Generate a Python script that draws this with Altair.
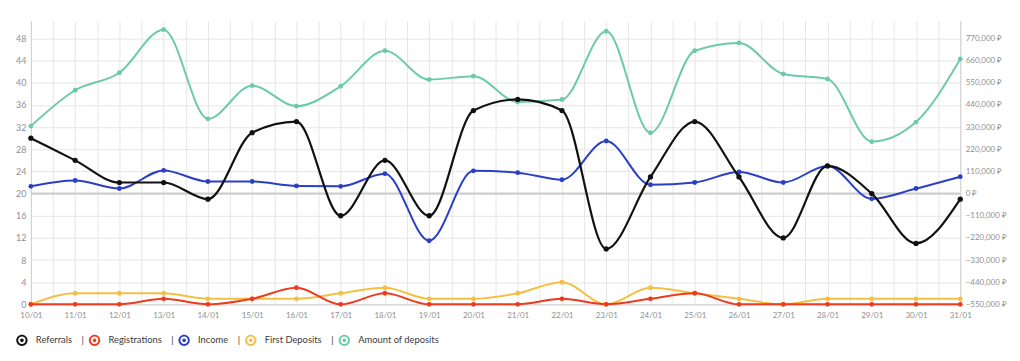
import altair as alt
import pandas as pd

dates = ['10/01', '11/01', '12/01', '13/01', '14/01', '15/01', '16/01', '17/01',
         '18/01', '19/01', '20/01', '21/01', '22/01', '23/01', '24/01', '25/01',
         '26/01', '27/01', '28/01', '29/01', '30/01', '31/01']
referrals = [30, 26, 22, 22, 19, 31, 33, 16, 26, 16, 35, 37, 35, 10, 23, 33, 23, 12, 25, 20, 11, 19]
registrations = [0, 0, 0, 1, 0, 1, 3, 0, 2, 0, 0, 0, 1, 0, 1, 2, 0, 0, 0, 0, 0, 0]
first_deposits = [0, 2, 2, 2, 1, 1, 1, 2, 3, 1, 1, 2, 4, 0, 3, 2, 1, 0, 1, 1, 1, 1]
income = [36000, 65000, 25000, 115000, 60000, 60000, 38000, 36000, 99000, -234000, 113000,
          104000, 69000, 261000, 44000, 55000, 107000, 55000, 137000, -26000, 25000, 84000]
amount_of_deposits = [335000, 513000, 600000, 814000, 371000, 536000, 434000, 533000, 709000,
                      566000, 583000, 455000, 467000, 806000, 302000, 709000, 748000, 594000,
                      569000, 258000, 355000, 668000]

series_names = ['Referrals', 'Registrations', 'Income', 'First Deposits', 'Amount of deposits']
series_colors = ['#111111', '#ee3a1e', '#2b3ec6', '#f4bf45', '#6dcaa9']

left_ticks = list(range(0, 49, 4))
right_ticks = list(range(-550000, 770001, 110000))
LEFT_MAX = 51.2
RIGHT_MIN = -550000
RIGHT_MAX = RIGHT_MIN + LEFT_MAX * 27500

n = len(dates)
idx = list(range(n))
x_values = [i / 2 for i in range(0, 2 * (n - 1) + 1)]
labels_js = "[" + ",".join("'" + d + "'" for d in dates) + "]"
x_label_expr = "datum.value % 1 == 0 ? " + labels_js + "[datum.value] : ''"

FONT = 'Lato'
NB = '\u00a0'

color_scale = alt.Scale(domain=series_names, range=series_colors)
left_scale = alt.Scale(domain=[0, LEFT_MAX], nice=False, zero=False)
right_scale = alt.Scale(domain=[RIGHT_MIN, RIGHT_MAX], nice=False, zero=False)

x_enc = alt.X('i:Q', scale=alt.Scale(domain=[0, n - 1], nice=False, zero=False),
              axis=alt.Axis(values=x_values, labelExpr=x_label_expr, title=None, grid=True,
                            ticks=False, labelPadding=7, labelFontSize=8, labelColor='#8f8f8f',
                            labelFont=FONT, domainColor='#d0d0d0', gridColor='#e6e6e6',
                            labelAngle=0, labelOverlap=False, labelFlush=False))

# ring (outer clockwise, hole counter-clockwise) plus a centre dot
legend_ring = ("M-1,0A1,1 0 1,1 1,0A1,1 0 1,1 -1,0Z "
               "M-0.66,0A0.66,0.66 0 1,0 0.66,0A0.66,0.66 0 1,0 -0.66,0Z "
               "M-0.32,0A0.32,0.32 0 1,1 0.32,0A0.32,0.32 0 1,1 -0.32,0Z")

sep = NB * 4 + '|'
legend = alt.Legend(
    orient='none', legendX=-15, legendY=315, direction='horizontal', title=None,
    symbolType=legend_ring, symbolSize=130, symbolStrokeWidth=0,
    symbolOpacity=1,
    labelFontSize=9.4, labelFont=FONT, labelColor='#3a3a3a', labelOffset=8, columnPadding=4,
    labelExpr="datum.label + (datum.label == 'Amount of deposits' ? '' : '" + sep + "')"
)


def series_layers(name, values, right, show_axis=False, show_legend=False, width=2.0, psize=24):
    df = pd.DataFrame({'i': idx, 'v': values, 'series': name})
    scale = right_scale if right else left_scale
    if right:
        axis = alt.Axis(orient='right', values=right_ticks, title=None, grid=False, ticks=False,
                        labelExpr="format(datum.value, ',') + ' ₽'", labelFontSize=8,
                        labelColor='#8f8f8f', labelFont=FONT, labelPadding=5,
                        domainColor='#d0d0d0') if show_axis else None
    else:
        axis = alt.Axis(orient='left', values=left_ticks, title=None, grid=True, ticks=False,
                        labelFontSize=9, labelColor='#8f8f8f', labelFont=FONT, labelPadding=5,
                        domainColor='#d0d0d0', gridColor='#e6e6e6') if show_axis else None
    base = alt.Chart(df)
    line = base.mark_line(interpolate='monotone', strokeWidth=width).encode(
        x=x_enc, y=alt.Y('v:Q', scale=scale, axis=axis),
        color=alt.Color('series:N', scale=color_scale, legend=legend if show_legend else None)
    )
    pts = base.mark_circle(size=psize, opacity=1).encode(
        x=x_enc, y=alt.Y('v:Q', scale=scale, axis=None),
        color=alt.Color('series:N', scale=color_scale, legend=None)
    )
    return [line, pts]


zero_line = alt.Chart(pd.DataFrame({'v': [0]})).mark_rule(color='#cccccc', strokeWidth=2).encode(
    y=alt.Y('v:Q', scale=right_scale, axis=None)
)

layers = [zero_line]
layers += series_layers('Amount of deposits', amount_of_deposits, True, show_axis=True, show_legend=True)
layers += series_layers('First Deposits', first_deposits, False, show_axis=True)
layers += series_layers('Income', income, True)
layers += series_layers('Registrations', registrations, False)
layers += series_layers('Referrals', referrals, False, width=2.2, psize=28)

chart = alt.layer(*layers).resolve_scale(y='independent').properties(
    width=934, height=285,
    padding={'left': 7, 'top': 12, 'right': 5, 'bottom': 0},
    background='white'
).configure_view(stroke=None)

chart.save("out.html", embed_options={"renderer": "svg", "actions": False})
